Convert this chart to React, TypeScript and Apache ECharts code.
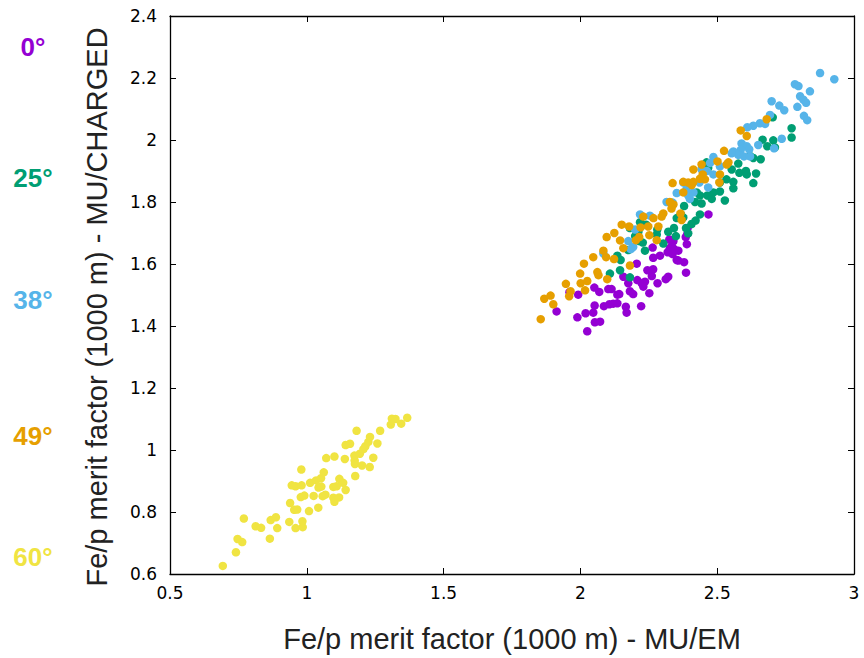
import React, { useEffect, useRef } from "react";
import * as echarts from "echarts";

const seriesNames = ["0°", "25°", "38°", "49°", "60°"];
const seriesColors = ["#9400d3", "#009e73", "#56b4e9", "#e69f00", "#f0e442"];
const labelYs = [47, 178, 300, 436, 557];

const xTicks = [0.5, 1, 1.5, 2, 2.5, 3];
const yTicks = [0.6, 0.8, 1, 1.2, 1.4, 1.6, 1.8, 2, 2.2, 2.4];
const xTitle = "Fe/p merit factor (1000 m) - MU/EM";
const yTitle = "Fe/p merit factor (1000 m) - MU/CHARGED";

const data0: number[][] = [
  [1.913, 1.447], [1.96, 1.509], [1.992, 1.501], [1.989, 1.428], [2.019, 1.441], [2.025, 1.383],
  [2.047, 1.443], [2.052, 1.466], [2.051, 1.524], [2.069, 1.51], [2.053, 1.412], [2.072, 1.414],
  [2.086, 1.464], [2.106, 1.47], [2.12, 1.472], [2.135, 1.473], [2.102, 1.519], [2.114, 1.519],
  [2.135, 1.501], [2.142, 1.503], [2.166, 1.462], [2.169, 1.443], [2.157, 1.559], [2.175, 1.538],
  [2.181, 1.512], [2.193, 1.503], [2.206, 1.601], [2.208, 1.548], [2.224, 1.538], [2.236, 1.543],
  [2.23, 1.527], [2.245, 1.58], [2.252, 1.506], [2.261, 1.561], [2.266, 1.583], [2.282, 1.538],
  [2.266, 1.62], [2.264, 1.653], [2.291, 1.627], [2.312, 1.551], [2.321, 1.559], [2.327, 1.651],
  [2.337, 1.632], [2.352, 1.613], [2.379, 1.606], [2.386, 1.572], [2.389, 1.664], [2.358, 1.643],
  [2.222, 1.464], [2.325, 1.679], [2.334, 1.658], [2.343, 1.648], [2.319, 1.638], [2.392, 1.716],
  [2.385, 1.687], [2.468, 1.76], [2.34, 1.674], [2.391, 1.697], [2.358, 1.611],
];

const data25: number[][] = [
  [2.108, 1.569], [2.145, 1.58], [2.181, 1.557], [2.135, 1.627], [2.147, 1.613], [2.175, 1.645],
  [2.2, 1.69], [2.212, 1.704], [2.228, 1.669], [2.236, 1.643], [2.218, 1.735], [2.24, 1.727],
  [2.279, 1.695], [2.303, 1.666], [2.281, 1.711], [2.321, 1.704], [2.342, 1.716], [2.349, 1.69],
  [2.352, 1.748], [2.367, 1.76], [2.379, 1.787], [2.394, 1.699], [2.421, 1.74], [2.437, 1.76],
  [2.419, 1.8], [2.443, 1.795], [2.425, 1.831], [2.464, 1.821], [2.48, 1.81], [2.486, 1.831],
  [2.51, 1.834], [2.528, 1.805], [2.559, 1.844], [2.559, 1.865], [2.553, 1.905], [2.581, 1.894],
  [2.605, 1.9], [2.608, 1.889], [2.632, 1.861], [2.642, 1.892], [2.577, 1.924], [2.632, 1.942],
  [2.659, 1.938], [2.62, 1.949], [2.666, 2.001], [2.683, 1.98], [2.705, 1.999], [2.711, 1.976],
  [2.772, 2.038], [2.772, 2.008], [2.703, 2.073], [2.461, 1.928], [2.467, 1.91], [2.386, 1.716],
  [2.376, 1.75], [2.406, 1.729], [2.437, 1.821], [2.51, 1.863], [2.534, 1.873], [2.215, 1.674],
  [2.181, 1.716],
];

const data38: number[][] = [
  [2.876, 2.216], [2.928, 2.196], [2.784, 2.18], [2.797, 2.174], [2.839, 2.157], [2.803, 2.141],
  [2.815, 2.13], [2.825, 2.12], [2.793, 2.107], [2.699, 2.125], [2.727, 2.111], [2.745, 2.096],
  [2.817, 2.078], [2.829, 2.064], [2.693, 2.081], [2.656, 2.054], [2.632, 2.046], [2.61, 2.041],
  [2.675, 2.052], [2.736, 2.004], [2.65, 1.984], [2.708, 1.973], [2.589, 1.989], [2.608, 1.98],
  [2.586, 1.968], [2.617, 1.97], [2.559, 1.963], [2.577, 1.952], [2.598, 1.947], [2.62, 1.947],
  [2.486, 1.945], [2.474, 1.926], [2.462, 1.9], [2.486, 1.889], [2.443, 1.905], [2.51, 1.915],
  [2.376, 1.863], [2.352, 1.829], [2.388, 1.842], [2.413, 1.831], [2.4, 1.81], [2.394, 1.821],
  [2.315, 1.8], [2.337, 1.798], [2.467, 1.847], [2.218, 1.76], [2.254, 1.756], [2.2, 1.711],
  [2.175, 1.674], [2.193, 1.655], [2.184, 1.648], [2.084, 1.634], [2.435, 1.863], [2.553, 1.957],
];

const data49: number[][] = [
  [1.855, 1.422], [1.868, 1.488], [1.891, 1.498], [1.901, 1.47], [1.947, 1.536], [1.964, 1.512],
  [1.959, 1.496], [2.017, 1.515], [1.999, 1.569], [2.001, 1.538], [2.025, 1.545], [2.013, 1.601],
  [2.066, 1.564], [2.062, 1.574], [2.098, 1.551], [2.047, 1.622], [2.084, 1.643], [2.094, 1.622],
  [2.123, 1.616], [2.096, 1.687], [2.124, 1.7], [2.145, 1.676], [2.157, 1.651], [2.151, 1.727],
  [2.178, 1.721], [2.181, 1.595], [2.203, 1.677], [2.215, 1.687], [2.22, 1.718], [2.23, 1.753],
  [2.248, 1.721], [2.252, 1.693], [2.267, 1.748], [2.279, 1.677], [2.285, 1.721], [2.297, 1.753],
  [2.303, 1.763], [2.327, 1.8], [2.333, 1.779], [2.34, 1.792], [2.366, 1.763], [2.37, 1.742],
  [2.376, 1.831], [2.337, 1.861], [2.376, 1.865], [2.394, 1.863], [2.407, 1.855], [2.413, 1.865],
  [2.413, 1.905], [2.443, 1.921], [2.447, 1.889], [2.455, 1.873], [2.437, 1.875], [2.501, 1.931],
  [2.51, 1.889], [2.525, 1.965], [2.535, 1.921], [2.541, 1.928], [2.508, 1.863], [2.586, 2.031],
  [2.608, 2.013], [2.681, 2.067],
];

const data60: number[][] = [
  [0.693, 0.626], [0.741, 0.67], [0.747, 0.713], [0.764, 0.703], [0.77, 0.779], [0.813, 0.754],
  [0.833, 0.749], [0.865, 0.714], [0.868, 0.774], [0.887, 0.783], [0.892, 0.748], [0.936, 0.768],
  [0.959, 0.748], [0.985, 0.751], [0.984, 0.77], [0.939, 0.829], [0.954, 0.807], [0.965, 0.808],
  [0.978, 0.848], [0.991, 0.853], [1.025, 0.852], [1.008, 0.803], [1.042, 0.814], [1.058, 0.851],
  [1.068, 0.856], [1.097, 0.846], [1.101, 0.833], [1.118, 0.847], [1.142, 0.871], [1.097, 0.881],
  [1.109, 0.883], [1.119, 0.907], [1.133, 0.894], [0.945, 0.886], [0.959, 0.883], [0.981, 0.886],
  [0.98, 0.937], [1.012, 0.894], [1.034, 0.902], [1.043, 0.879], [1.053, 0.882], [1.052, 0.909],
  [1.062, 0.928], [1.071, 0.974], [1.101, 0.979], [1.139, 0.971], [1.142, 1.016], [1.158, 1.02],
  [1.174, 0.982], [1.175, 0.966], [1.176, 0.955], [1.177, 0.916], [1.182, 1.062], [1.194, 0.988],
  [1.207, 1.003], [1.214, 1.012], [1.225, 1.026], [1.231, 1.042], [1.202, 0.95], [1.23, 0.945],
  [1.243, 0.975], [1.258, 1.021], [1.268, 1.062], [1.307, 1.082], [1.311, 1.101], [1.324, 1.1],
  [1.345, 1.085], [1.367, 1.104],
];

const allData = [data0, data25, data38, data49, data60];

export default function App() {
  const ref = useRef<HTMLDivElement>(null);
  useEffect(() => {
    if (!ref.current) return;
    document.body.style.margin = "0";
    const chart = echarts.init(ref.current, null, { renderer: "svg" });
    const axisLine = { show: true, lineStyle: { color: "#000", width: 1.3 } };
    const tickStyle = { show: true, inside: true, length: 6, lineStyle: { color: "#000", width: 1 } };
    const labelFont = { fontFamily: "DejaVu Sans", fontSize: 17, color: "#000" };
    const titleFont = { fontFamily: "Liberation Sans", fontSize: 29, color: "#222" };
    chart.setOption({
      animation: false,
      backgroundColor: "#fff",
      grid: { left: 170, right: 10, top: 16, bottom: 70, containLabel: false },
      xAxis: [
        {
          type: "value",
          min: xTicks[0],
          max: xTicks[xTicks.length - 1],
          interval: 0.5,
          position: "bottom",
          axisLine,
          axisTick: tickStyle,
          splitLine: { show: false },
          axisLabel: { ...labelFont, margin: 10 },
          name: xTitle,
          nameLocation: "middle",
          nameGap: 50,
          nameTextStyle: titleFont,
        },
        {
          type: "value",
          min: xTicks[0],
          max: xTicks[xTicks.length - 1],
          interval: 0.5,
          position: "top",
          axisLine,
          axisTick: tickStyle,
          splitLine: { show: false },
          axisLabel: { show: false },
        },
      ],
      yAxis: [
        {
          type: "value",
          min: yTicks[0],
          max: yTicks[yTicks.length - 1],
          interval: 0.2,
          position: "left",
          axisLine,
          axisTick: tickStyle,
          splitLine: { show: false },
          axisLabel: { ...labelFont, margin: 13 },
        },
        {
          type: "value",
          min: yTicks[0],
          max: yTicks[yTicks.length - 1],
          interval: 0.2,
          position: "right",
          axisLine,
          axisTick: tickStyle,
          splitLine: { show: false },
          axisLabel: { show: false },
        },
      ],
      graphic: [
        ...seriesNames.map((n, i) => ({
          type: "text",
          x: 33,
          y: labelYs[i],
          style: {
            text: n,
            fill: seriesColors[i],
            font: "bold 26px 'Liberation Sans', Arial, sans-serif",
            textAlign: "center",
            textVerticalAlign: "middle",
          },
        })),
        {
          type: "text",
          x: 97,
          y: 307,
          rotation: Math.PI / 2,
          style: {
            text: yTitle,
            fill: "#222",
            font: "29px 'Liberation Sans', Arial, sans-serif",
            textAlign: "center",
            textVerticalAlign: "middle",
          },
        },
      ],
      series: allData.map((d, i) => ({
        name: seriesNames[i],
        type: "scatter",
        xAxisIndex: 0,
        yAxisIndex: 0,
        data: d,
        symbol: "circle",
        symbolSize: 8.5,
        itemStyle: { color: seriesColors[i], opacity: 1 },
        z: 2 + i,
      })),
    });
    return () => chart.dispose();
  }, []);
  return <div ref={ref} style={{ width: 864, height: 658 }} />;
}
